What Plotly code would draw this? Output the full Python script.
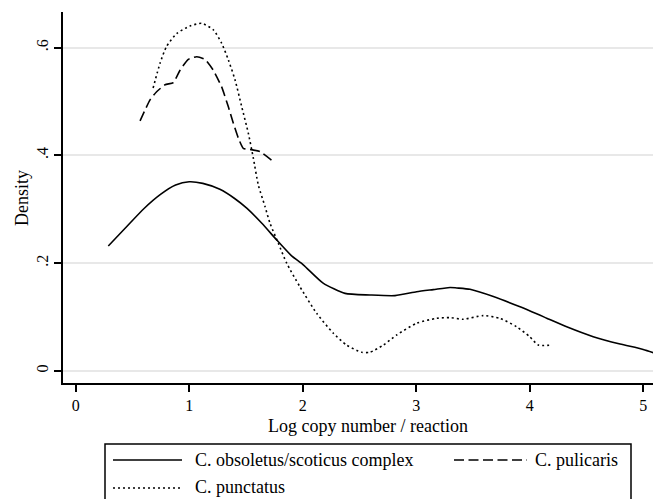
import plotly.graph_objects as go

# ---- data ----
obs_x = [0.287, 0.45, 0.60, 0.75, 0.88, 1.0, 1.12, 1.27, 1.40, 1.507, 1.64, 1.771, 1.90, 2.005, 2.18,
         2.373, 2.593, 2.813, 3.004, 3.15, 3.298, 3.357, 3.474, 3.68, 3.915, 4.15, 4.326, 4.56, 4.796, 5.0, 5.16]
obs_y = [0.232, 0.268, 0.301, 0.328, 0.345, 0.351, 0.348, 0.337, 0.320, 0.302, 0.274, 0.243, 0.214, 0.197, 0.163,
         0.144, 0.141, 0.1398, 0.147, 0.151, 0.155, 0.154, 0.1515, 0.138, 0.119, 0.098, 0.082, 0.0637, 0.050, 0.040, 0.029]

pun_x = [0.682, 0.743, 0.80, 0.89, 1.007, 1.11, 1.212, 1.286, 1.345, 1.404, 1.463, 1.521, 1.565, 1.609, 1.668,
         1.712, 1.785, 1.859, 1.976, 2.123, 2.27, 2.387, 2.52, 2.593, 2.71, 2.828, 3.004, 3.18, 3.298, 3.415,
         3.59, 3.738, 3.885, 4.0, 4.076, 4.194]
pun_y = [0.525, 0.571, 0.602, 0.626, 0.640, 0.645, 0.633, 0.608, 0.577, 0.540, 0.490, 0.441, 0.395, 0.345, 0.305,
         0.274, 0.237, 0.200, 0.156, 0.107, 0.070, 0.048, 0.0347, 0.0347, 0.048, 0.0668, 0.0885, 0.0977, 0.099, 0.096,
         0.1027, 0.0977, 0.082, 0.0637, 0.048, 0.048]

pul_x = [0.567, 0.655, 0.713, 0.787, 0.86, 0.919, 0.992, 1.066, 1.139, 1.212, 1.286, 1.345, 1.389, 1.433, 1.477,
         1.536, 1.624, 1.727]
pul_y = [0.464, 0.503, 0.518, 0.531, 0.535, 0.558, 0.578, 0.583, 0.578, 0.558, 0.527, 0.490, 0.4595, 0.432, 0.413,
         0.411, 0.407, 0.391]

names = ["C. obsoletus/scoticus complex", "C. pulicaris", "C. punctatus"]
x_ticks = [0, 1, 2, 3, 4, 5]
y_ticks = [0, 0.2, 0.4, 0.6]
y_tick_text = ["0", ".2", ".4", ".6"]
x_title = "Log copy number / reaction"
y_title = "Density"

FONT = "Liberation Serif, Times New Roman, serif"
DOT = "2px,3px"
DASH = "10px,4.5px"
TXT = dict(family=FONT, size=18, color="black")
TICK = dict(family=FONT, size=16, color="black")

fig = go.Figure()
fig.add_trace(go.Scatter(x=obs_x, y=obs_y, mode="lines", name=names[0],
                         line=dict(color="black", width=1.6, shape="spline", smoothing=0.6), showlegend=False))
fig.add_trace(go.Scatter(x=pul_x, y=pul_y, mode="lines", name=names[1],
                         line=dict(color="black", width=1.6, dash=DASH, shape="spline", smoothing=0.5), showlegend=False))
fig.add_trace(go.Scatter(x=pun_x, y=pun_y, mode="lines", name=names[2],
                         line=dict(color="black", width=1.6, dash=DOT, shape="spline", smoothing=0.6), showlegend=False))

# page body has an 8px margin: figure is placed at (8, 8) in the window
OFF = 8
W, H = 661 - OFF, 499 - OFF
# plot area in window pixels: left 63, right 661, top 12, bottom 383
L, R, T, B = 63 - OFF, 0, 12 - OFF, H - (383 - OFF)


def px(xw):
    return (xw - 63) / 598.0


def py(yw):
    return (383 - yw) / 371.0


shapes = [
    dict(type="rect", xref="paper", yref="paper", x0=px(105), x1=px(631), y0=py(444), y1=py(520),
         line=dict(color="black", width=1.5), fillcolor="white", layer="above"),
    dict(type="line", xref="paper", yref="paper", x0=px(113), x1=px(182), y0=py(460), y1=py(460),
         line=dict(color="black", width=1.6)),
    dict(type="line", xref="paper", yref="paper", x0=px(454), x1=px(527), y0=py(460), y1=py(460),
         line=dict(color="black", width=1.6, dash=DASH)),
    dict(type="line", xref="paper", yref="paper", x0=px(113), x1=px(182), y0=py(488), y1=py(488),
         line=dict(color="black", width=1.6, dash=DOT)),
]

annotations = [
    dict(xref="paper", yref="paper", x=px(193), y=py(460), text=names[0], showarrow=False,
         xanchor="left", yanchor="middle", font=TXT),
    dict(xref="paper", yref="paper", x=px(533), y=py(460), text=names[1], showarrow=False,
         xanchor="left", yanchor="middle", font=TXT),
    dict(xref="paper", yref="paper", x=px(193), y=py(487), text=names[2], showarrow=False,
         xanchor="left", yanchor="middle", font=TXT),
    dict(xref="paper", yref="paper", x=px(368), y=py(426), text=x_title, showarrow=False,
         xanchor="center", yanchor="middle", font=TXT),
    dict(xref="paper", yref="paper", x=px(22), y=py(198), text=y_title, showarrow=False, textangle=-90,
         xanchor="center", yanchor="middle", font=TXT),
]

fig.update_layout(
    width=W, height=H,
    margin=dict(l=L, r=R, t=T, b=B, pad=0),
    paper_bgcolor="white", plot_bgcolor="white",
    font=TXT,
    showlegend=False,
    shapes=shapes, annotations=annotations,
    xaxis=dict(range=[-0.112, 5.157], tickvals=x_ticks, ticks="outside", ticklen=7, tickwidth=1.5,
               tickcolor="black", showline=True, linecolor="black", linewidth=1.8, showgrid=False,
               zeroline=False, tickfont=TICK),
    yaxis=dict(range=[-0.0223, 0.666], tickvals=y_ticks, ticktext=y_tick_text, ticks="outside", ticklen=7,
               tickwidth=1.5, tickcolor="black", tickangle=-90, showline=True, linecolor="black", linewidth=1.8,
               showgrid=True, gridcolor="#e8e8e8", gridwidth=1.5, zeroline=False, tickfont=TICK),
)

fig.write_html("out.html")
